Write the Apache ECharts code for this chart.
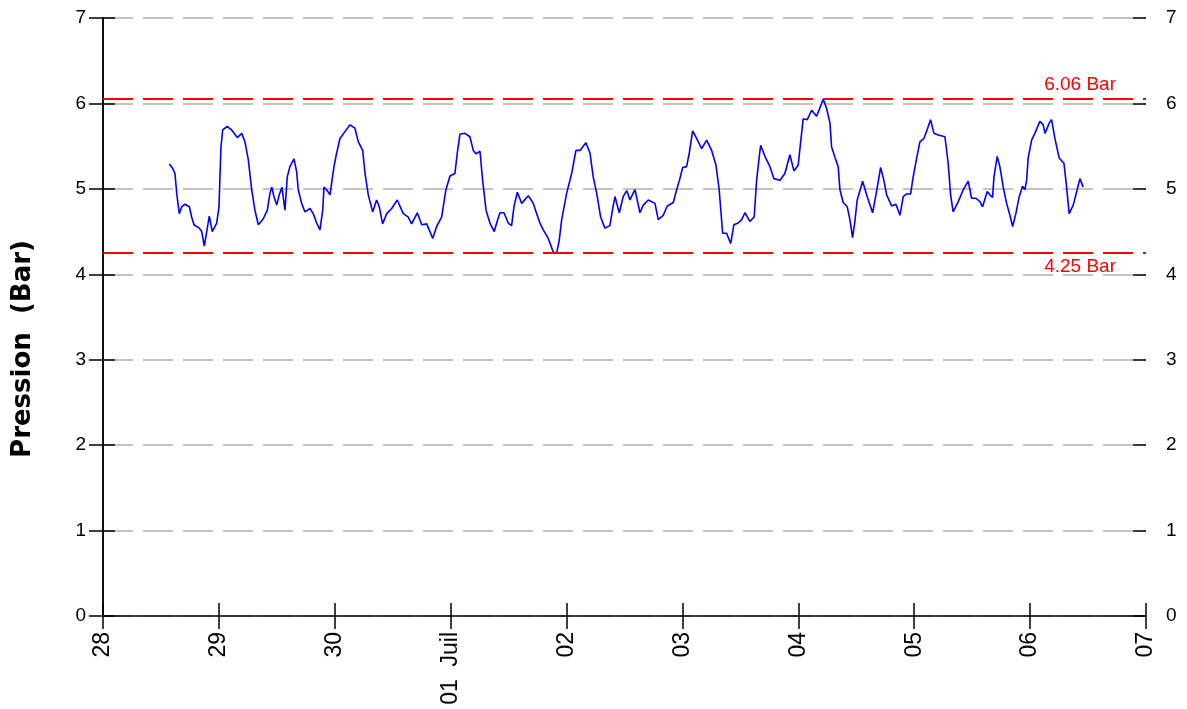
<!DOCTYPE html>
<html>
<head>
<meta charset="utf-8">
<script src="https://cdn.jsdelivr.net/npm/echarts@6/dist/echarts.min.js"></script>
<style>
html,body{margin:0;padding:0;background:#fff;}
#chart{width:1187px;height:709px;}
</style>
</head>
<body>
<div id="chart"></div>
<script>
// x: days since 28 June 00:00
const xLabels = ['28','29','30','01  Juil','02','03','04','05','06','07'];
const yLabels = ['0','1','2','3','4','5','6','7'];
const yTitle = 'Pression  (Bar)';
const limitHigh = 6.06;
const limitLow = 4.25;
const times = [
0.572,0.601,0.621,0.636,0.658,0.679,0.707,0.745,0.765,0.785,0.831,0.852,0.874,0.895,0.917,0.943,0.981,1.001,1.009,1.018,
1.033,1.072,1.110,1.159,1.197,1.225,1.254,1.283,1.311,1.340,1.383,1.418,1.441,1.456,1.475,1.499,1.521,1.544,1.570,1.590,
1.613,1.648,1.671,1.685,1.714,1.743,1.786,1.814,1.844,1.872,1.896,1.907,1.930,1.959,1.973,1.993,2.016,2.045,2.088,2.131,
2.174,2.203,2.241,2.261,2.289,2.327,2.361,2.384,2.413,2.448,2.491,2.539,2.591,2.634,2.663,2.712,2.750,2.793,2.821,2.845,
2.879,2.922,2.959,2.994,3.037,3.057,3.080,3.123,3.166,3.195,3.218,3.253,3.276,3.305,3.339,3.376,3.397,3.425,3.460,3.497,
3.526,3.546,3.575,3.613,3.670,3.713,3.742,3.770,3.799,3.842,3.885,3.915,3.937,3.958,4.001,4.044,4.081,4.116,4.139,4.167,
4.202,4.230,4.260,4.294,4.331,4.374,4.398,4.418,4.437,4.455,4.489,4.519,4.547,4.575,4.590,4.610,4.633,4.662,4.705,4.763,
4.791,4.834,4.869,4.921,4.950,4.978,5.002,5.036,5.059,5.088,5.122,5.166,5.209,5.252,5.289,5.317,5.347,5.381,5.416,5.444,
5.481,5.511,5.539,5.582,5.619,5.640,5.663,5.675,5.712,5.755,5.789,5.841,5.884,5.927,5.962,5.999,6.020,6.042,6.077,6.115,
6.158,6.215,6.244,6.273,6.287,6.316,6.344,6.359,6.387,6.422,6.445,6.468,6.488,6.508,6.555,6.589,6.641,6.675,6.710,6.738,
6.762,6.805,6.842,6.877,6.905,6.934,6.969,6.991,7.021,7.049,7.084,7.121,7.141,7.170,7.207,7.265,7.293,7.314,7.336,7.380,
7.423,7.466,7.495,7.532,7.567,7.590,7.630,7.653,7.676,7.688,7.716,7.739,7.768,7.797,7.826,7.849,7.877,7.906,7.935,7.955,
7.970,7.983,8.013,8.041,8.084,8.113,8.128,8.165,8.185,8.214,8.251,8.292,8.315,8.337,8.372,8.406,8.430,8.458
];
const pressure = [
5.29,5.24,5.18,4.95,4.71,4.79,4.82,4.79,4.67,4.58,4.54,4.50,4.33,4.50,4.68,4.50,4.60,4.79,5.14,5.49,
5.69,5.73,5.69,5.60,5.65,5.55,5.34,4.99,4.75,4.58,4.65,4.75,4.95,5.02,4.91,4.81,4.93,5.02,4.75,5.14,
5.26,5.35,5.20,4.99,4.83,4.73,4.77,4.71,4.60,4.52,4.75,5.02,4.99,4.93,5.07,5.26,5.42,5.59,5.67,5.75,
5.71,5.55,5.45,5.18,4.93,4.73,4.87,4.79,4.59,4.71,4.77,4.87,4.71,4.67,4.59,4.72,4.58,4.59,4.50,4.42,
4.56,4.67,4.99,5.15,5.18,5.42,5.64,5.65,5.61,5.45,5.41,5.44,5.10,4.75,4.60,4.50,4.60,4.72,4.72,4.60,
4.57,4.79,4.96,4.83,4.92,4.83,4.71,4.60,4.52,4.42,4.26,4.25,4.40,4.64,4.95,5.18,5.45,5.45,5.49,5.54,
5.42,5.14,4.95,4.67,4.54,4.57,4.77,4.91,4.81,4.72,4.91,4.98,4.87,4.95,4.99,4.87,4.72,4.81,4.87,4.83,
4.64,4.69,4.80,4.84,4.99,5.12,5.25,5.26,5.42,5.68,5.59,5.47,5.57,5.45,5.28,4.99,4.48,4.48,4.36,4.58,
4.60,4.64,4.72,4.62,4.67,5.10,5.38,5.51,5.38,5.26,5.12,5.10,5.18,5.40,5.21,5.28,5.55,5.82,5.81,5.92,
5.85,6.05,5.94,5.77,5.49,5.37,5.26,4.99,4.84,4.79,4.64,4.43,4.62,4.87,5.09,4.93,4.72,4.97,5.25,5.10,
4.93,4.80,4.82,4.69,4.91,4.94,4.94,5.14,5.36,5.55,5.59,5.73,5.81,5.65,5.63,5.61,5.30,4.93,4.73,4.85,
4.99,5.09,4.89,4.89,4.85,4.79,4.97,4.93,4.90,5.14,5.38,5.26,5.02,4.83,4.69,4.56,4.71,4.91,5.03,4.99,
5.10,5.36,5.57,5.65,5.79,5.75,5.65,5.77,5.81,5.59,5.36,5.30,5.02,4.71,4.81,4.99,5.12,5.02
];

const FONT = 'Liberation Sans';
const seriesData = times.map((t, i) => [t, pressure[i]]);

const chart = echarts.init(document.getElementById('chart'), null, {renderer: 'canvas'});

function xAxisBase(extra) {
  return Object.assign({
    type: 'value', min: 0, max: xLabels.length - 1, interval: 1,
    position: 'bottom', splitLine: {show: false}
  }, extra);
}
function yAxisBase(extra) {
  return Object.assign({
    type: 'value', min: 0, max: yLabels.length - 1, interval: 1,
    splitLine: {show: false}
  }, extra);
}

chart.setOption({
  animation: false,
  backgroundColor: '#ffffff',
  grid: {left: 103, right: 41, top: 18, bottom: 93, containLabel: false},
  graphic: [{
    type: 'text',
    x: 23, y: 349,
    rotation: Math.PI / 2,
    style: {
      text: yTitle,
      fill: '#000',
      font: 'bold 26px "DejaVu Sans"',
      textAlign: 'center',
      textVerticalAlign: 'middle'
    }
  }],
  xAxis: [
    xAxisBase({
      axisLine: {show: true, lineStyle: {color: '#000', width: 1.5}},
      axisTick: {show: true, inside: false, length: 13, lineStyle: {color: '#000', width: 1.5}},
      axisLabel: {
        show: true, rotate: 90, margin: 16, color: '#000',
        fontFamily: FONT, fontSize: 23,
        showMinLabel: true, showMaxLabel: true,
        formatter: v => xLabels[Math.round(v)] || ''
      }
    }),
    xAxisBase({
      axisLine: {show: false},
      axisTick: {show: true, inside: true, length: 13, lineStyle: {color: '#000', width: 1.5}},
      axisLabel: {show: false}
    })
  ],
  yAxis: [
    yAxisBase({
      position: 'left',
      axisLine: {show: true, lineStyle: {color: '#000', width: 1.5}},
      axisTick: {show: true, inside: false, length: 14, lineStyle: {color: '#000', width: 1.5}},
      axisLabel: {show: true, margin: 17, color: '#000', fontFamily: FONT, fontSize: 19,
        showMinLabel: true, showMaxLabel: true,
        formatter: v => yLabels[Math.round(v)]},
      splitLine: {show: true, lineStyle: {color: '#c4c4c4', width: 2, type: [30, 10]}}
    }),
    yAxisBase({
      position: 'right',
      axisLine: {show: true, lineStyle: {color: '#000', width: 1.5}},
      axisTick: {show: true, inside: false, length: 11, lineStyle: {color: '#000', width: 1.5}},
      axisLabel: {show: true, margin: 20, color: '#000', fontFamily: FONT, fontSize: 19,
        showMinLabel: true, showMaxLabel: true,
        formatter: v => yLabels[Math.round(v)]}
    }),
    yAxisBase({
      position: 'left',
      axisLine: {show: false},
      axisTick: {show: true, inside: true, length: 12, lineStyle: {color: '#000', width: 1.5}},
      axisLabel: {show: false}
    }),
    yAxisBase({
      position: 'right',
      axisLine: {show: false},
      axisTick: {show: true, inside: true, length: 13, lineStyle: {color: '#000', width: 1.5}},
      axisLabel: {show: false}
    })
  ],
  series: [{
    type: 'line',
    xAxisIndex: 0,
    yAxisIndex: 0,
    data: seriesData,
    showSymbol: false,
    symbol: 'none',
    lineStyle: {color: '#0000ff', width: 1.6},
    itemStyle: {color: '#0000ff'},
    markLine: {
      silent: true,
      symbol: ['none', 'none'],
      lineStyle: {color: '#ff0000', width: 2, type: [30, 10]},
      label: {color: '#ff0000', fontFamily: FONT, fontSize: 19},
      data: [
        {yAxis: limitHigh, label: {position: 'insideEndTop', distance: [30, 4], formatter: limitHigh.toFixed(2) + ' Bar'}},
        {yAxis: limitLow, label: {position: 'insideEndBottom', distance: [30, 4], formatter: limitLow.toFixed(2) + ' Bar'}}
      ]
    }
  }]
});
</script>
</body>
</html>
